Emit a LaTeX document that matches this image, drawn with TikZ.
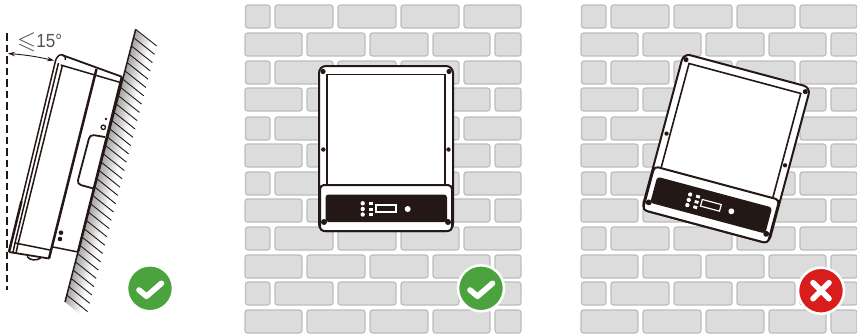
\documentclass[tikz,border=0pt]{standalone}
\usepackage{amssymb}
\usepackage{graphicx}
\usepackage{fontspec}
\setmainfont{Liberation Sans}
\usetikzlibrary{arrows.meta}
\definecolor{brickFill}{HTML}{DCDCDC}
\definecolor{brickEdge}{HTML}{BDBDBD}
\definecolor{inkDark}{HTML}{231815}
\definecolor{okGreen}{HTML}{4AA33C}
\definecolor{badRed}{HTML}{D91C1C}
\begin{document}
\begin{tikzpicture}[
        x=1pt,
        y=-1pt,
        brick/.style={
            draw=brickEdge,
            fill=brickFill,
            line width=1.2pt,
            rounded corners=2.5pt
        },
        body/.style={
            draw=inkDark,
            fill=white,
            line width=2pt
        },
        side/.style={
            draw=inkDark,
            line width=1.5pt
        },
        sideThick/.style={
            draw=inkDark,
            line width=2.5pt
        },
        hatch/.style={
            draw=inkDark,
            line width=0.9pt
        },
        badge/.style={
            circle,
            draw=white,
            line width=2.5pt,
            minimum size=46pt,
            inner sep=0pt
        },
        wallShade/.style={
            left color=black!36,
            right color=white
        },
        markLine/.style={
            draw=white,
            line width=5.6pt,
            line cap=round,
            line join=round
        },
        brickWall/.pic={
            \foreach \yTop in {5,61,117,172,227,282}
                \foreach \xL/\xR in {245.5/270,275/333,338/396,401/459,464/521}
                    \draw[brick] (\xL,\yTop) rectangle (\xR,\yTop+23);
            \foreach \yTop in {33,88,144,199,255,310}
                \foreach \xL/\xR in {245/302,307/365,370/428,433/490,495/521}
                    \draw[brick] (\xL,\yTop) rectangle (\xR,\yTop+23);
        },
        inverterFront/.pic={
            \draw[body,rounded corners=7pt] (-67,-83) rectangle (67,82);
            \draw[inkDark,line width=1.6pt] (-59,82) -- (-59,-74.5) -- (59,-74.5) -- (59,82);
            \fill[inkDark] (-63,-77.5) circle (2.6);
            \fill[inkDark] (63,-77.5) circle (2.6);
            \fill[inkDark] (-62.7,0.5) circle (2.2);
            \fill[inkDark] (62.5,0.5) circle (2.2);
            \draw[body,rounded corners=4pt] (-66,36) rectangle (66,82);
            \fill[inkDark,rounded corners=3pt] (-60.5,45.5) rectangle (61,73);
            \fill[inkDark] (-62,73) circle (3);
            \fill[inkDark] (62,73) circle (3);
            \foreach \yDot in {54.3,60,65.5} {
                \fill[white] (-23.3,\yDot) circle (2.2);
                \fill[white] (-17,\yDot-1.5) rectangle (-13,\yDot+1.5);
            }
            \draw[white,line width=1.2pt] (-10,56) rectangle (10,63);
            \fill[white] (21.7,60) circle (3);
        }
    ]
        \useasboundingbox (0,0) rectangle (857,333);

        \pic at (0,0) {brickWall};
        \pic at (336,0) {brickWall};

        \pic at (386,149) {inverterFront};
        \pic[rotate=-15,scale=0.98] at (726,149) {inverterFront};

        \begin{scope}
            \clip (135.7,29.3) -- (158,47) -- (87,320) -- (65,302) -- cycle;
            \begin{scope}[transform canvas={rotate around={-14.6:(100.3,165.5)}}]
                \shade[wallShade] (100.3,10) rectangle (118.3,320);
            \end{scope}
        \end{scope}
        \foreach \i in {0,...,32}
            \draw[hatch] (135.7-2.16*\i,29.3+8.3*\i) -- ++(21,16.7);
        \draw[side] (135.7,29.3) -- (65,302);
        \draw[sideThick] (122,76.5) -- (78.3,251);

        \draw[side,line width=1.8pt] (62,55) -- (121.7,76.7);
        \draw[side] (60.7,65) -- (120.5,82.5);
        \draw[side] (21.5,201) -- (55,63) .. controls (56.5,55) and (61,52.5) .. (65,56.5) -- (65.5,60);
        \draw[side] (58.5,63) -- (15,243);
        \draw[side] (62.5,65) -- (18,244);
        \draw[sideThick] (9,252) -- (21.5,201);
        \draw[sideThick] (96.5,69) -- (49,258.5);
        \draw[side,line width=1.8pt] (9,252) -- (15,253) -- (49,258.5);
        \draw[side] (15,243) -- (50,250);
        \draw[side] (53,247) -- (78,252);
        \draw[side] (15,243) -- (13,252.5);
        \draw[side] (18,244) -- (16,253);
        \draw[side] (27,256.5) .. controls (30,260.5) and (36,261) .. (41,258);
        \draw[side,line width=1.8pt,rounded corners=4pt] (105,137) -- (90,134.5) -- (77,184) -- (93.5,188.5);
        \draw[inkDark,line width=1.3pt] (103.3,127.3) circle (2.2);
        \fill[inkDark] (106,119) circle (1.4);
        \fill[inkDark] (61,232.7) circle (2.3);
        \fill[inkDark] (60,239) circle (2.3);

        \draw[inkDark,line width=1.5pt,dash pattern=on 7.5pt off 4pt] (7,33) -- (7,290);
        \coordinate (tiltStart) at (8,53.5);
        \coordinate (tiltEnd) at (54,60.5);
        \draw[{Stealth[length=7pt,width=4.5pt]}-{Stealth[length=7pt,width=4.5pt]},inkDark,line width=0.9pt] (tiltStart) to[bend left=4] (tiltEnd);
        \node[anchor=west,inner sep=0pt,text=inkDark!75,font=\fontsize{19}{19}\selectfont] (tiltLabel) at (17,42.5) {\raisebox{-1.5pt}{\scalebox{1.3}{$\leqslant$}}\scalebox{0.9}[1]{15\textdegree}};

        \node[badge,fill=okGreen] (okSide) at (150,288.3) {};
        \draw[markLine] (139,290) -- (146.5,296.3) -- (161.5,283.3);
        \node[badge,fill=okGreen] (okFront) at (481,288.3) {};
        \draw[markLine] (470,290) -- (477.5,296.3) -- (492.5,283.3);
        \node[badge,fill=badRed] (badTilt) at (821,290.7) {};
        \draw[markLine] (813,282.7) -- (829,298.7);
        \draw[markLine] (829,282.7) -- (813,298.7);

    \end{tikzpicture}
\end{document}
